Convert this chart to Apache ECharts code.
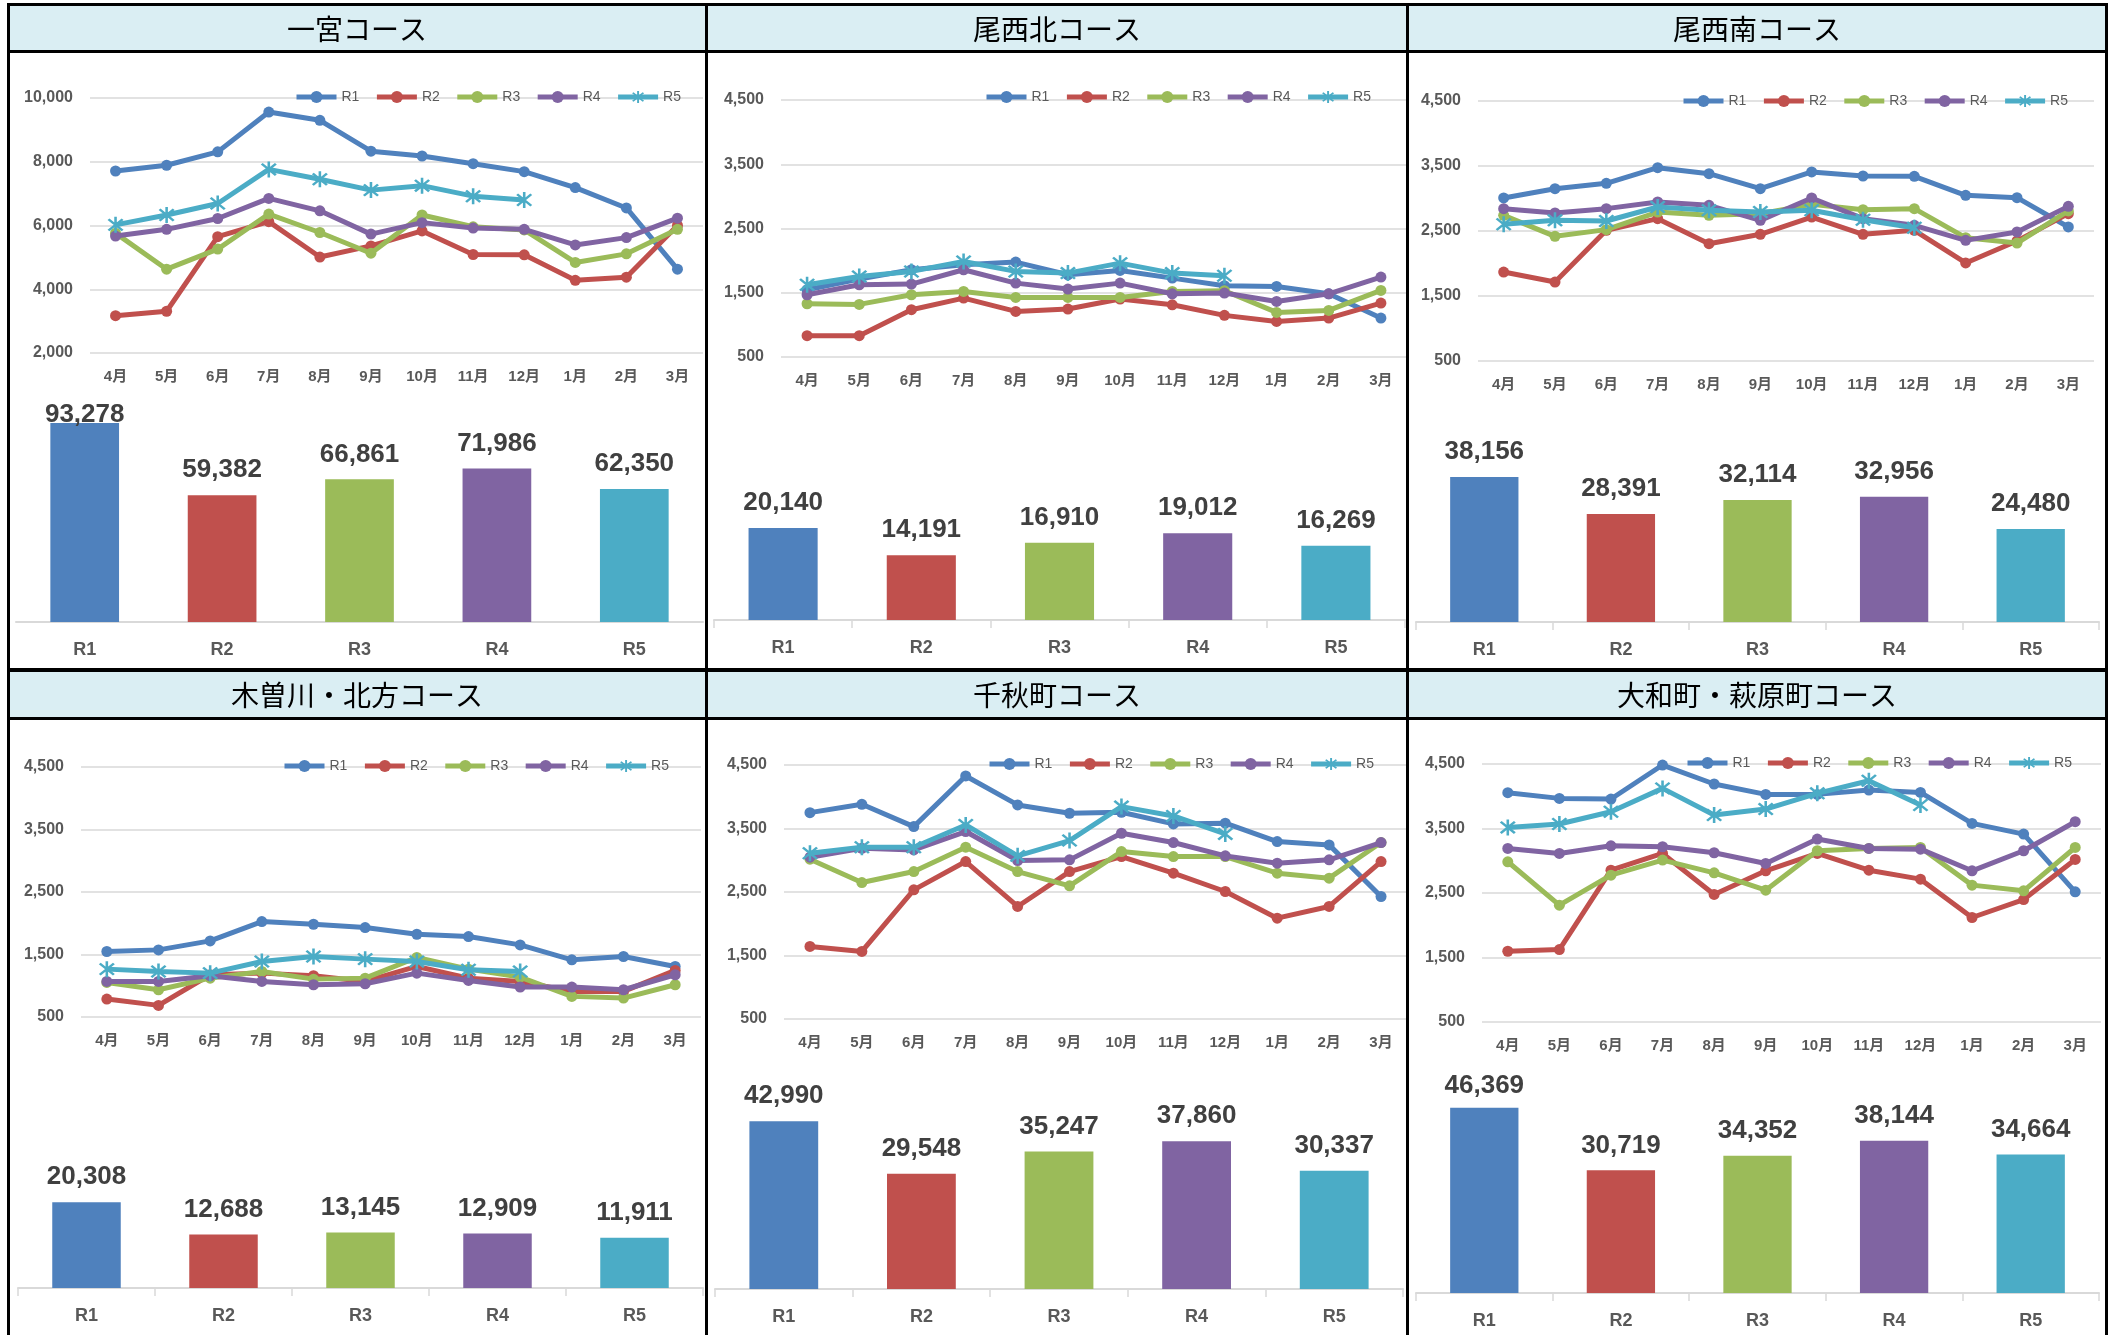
<!DOCTYPE html>
<html><head><meta charset="utf-8">
<script src="https://cdn.jsdelivr.net/npm/echarts@6/dist/echarts.min.js"></script>
<style>html,body{margin:0;padding:0;background:#fff}#c{width:2117px;height:1335px}</style>
</head><body><div id="c"></div>
<script>
// ---------- data ----------
const months = ['4月','5月','6月','7月','8月','9月','10月','11月','12月','1月','2月','3月'];
const years = ['R1','R2','R3','R4','R5'];
const courseNames = ['一宮コース','尾西北コース','尾西南コース','木曽川・北方コース','千秋町コース','大和町・萩原町コース'];

const ticksIchinomiya = [2000, 4000, 6000, 8000, 10000];
const ticksOther = [500, 1500, 2500, 3500, 4500];

// 一宮コース
const ichinomiyaR1 = [7710, 7890, 8310, 9560, 9300, 8330, 8180, 7940, 7690, 7190, 6550, 4630];
const ichinomiyaR2 = [3170, 3310, 5650, 6120, 5010, 5360, 5830, 5090, 5080, 4280, 4380, 6000];
const ichinomiyaR3 = [5760, 4630, 5260, 6360, 5780, 5130, 6330, 5960, 5860, 4840, 5110, 5880];
const ichinomiyaR4 = [5670, 5880, 6220, 6850, 6460, 5730, 6090, 5920, 5880, 5390, 5620, 6230];
const ichinomiyaR5 = [6020, 6330, 6690, 7760, 7450, 7110, 7250, 6920, 6800];
const ichinomiyaTotals = [93278, 59382, 66861, 71986, 62350];

// 尾西北コース
const bisaiKitaR1 = [1547, 1712, 1858, 1935, 1977, 1780, 1847, 1728, 1609, 1598, 1484, 1106];
const bisaiKitaR2 = [832, 832, 1236, 1417, 1210, 1246, 1402, 1313, 1148, 1054, 1106, 1339];
const bisaiKitaR3 = [1329, 1319, 1469, 1521, 1427, 1427, 1427, 1521, 1531, 1194, 1225, 1536];
const bisaiKitaR4 = [1469, 1624, 1635, 1858, 1650, 1557, 1650, 1484, 1495, 1365, 1484, 1744];
const bisaiKitaR5 = [1624, 1754, 1832, 1987, 1832, 1806, 1961, 1806, 1764];
const bisaiKitaTotals = [20140, 14191, 16910, 19012, 16269];

// 尾西南コース
const bisaiMinamiR1 = [3008, 3151, 3233, 3474, 3382, 3151, 3408, 3346, 3341, 3049, 3013, 2562];
const bisaiMinamiR2 = [1869, 1715, 2510, 2690, 2305, 2449, 2715, 2449, 2510, 2008, 2346, 2767];
const bisaiMinamiR3 = [2741, 2418, 2521, 2792, 2741, 2767, 2910, 2828, 2844, 2397, 2315, 2808];
const bisaiMinamiR4 = [2844, 2777, 2844, 2946, 2895, 2664, 3008, 2690, 2587, 2356, 2485, 2879];
const bisaiMinamiR5 = [2603, 2664, 2654, 2869, 2818, 2792, 2818, 2674, 2551];
const bisaiMinamiTotals = [38156, 28391, 32114, 32956, 24480];

// 木曽川・北方コース
const kisogawaR1 = [1548, 1574, 1718, 2027, 1984, 1931, 1824, 1787, 1654, 1415, 1468, 1309];
const kisogawaR2 = [787, 686, 1176, 1202, 1160, 1069, 1309, 1122, 1069, 910, 910, 1245];
const kisogawaR3 = [1053, 936, 1122, 1229, 1106, 1122, 1452, 1266, 1138, 830, 803, 1016];
const kisogawaR4 = [1069, 1069, 1160, 1069, 1016, 1032, 1202, 1085, 979, 979, 936, 1176];
const kisogawaR5 = [1266, 1229, 1202, 1388, 1468, 1426, 1388, 1255, 1229];
const kisogawaTotals = [20308, 12688, 13145, 12909, 11911];

// 千秋町コース
const chiakiR1 = [3750, 3881, 3530, 4327, 3871, 3740, 3756, 3572, 3583, 3294, 3242, 2429];
const chiakiR2 = [1643, 1564, 2534, 2980, 2272, 2822, 3058, 2796, 2508, 2088, 2272, 2980];
const chiakiR3 = [3016, 2649, 2822, 3205, 2822, 2597, 3137, 3058, 3058, 2796, 2718, 3279];
const chiakiR4 = [3048, 3189, 3163, 3452, 2996, 3006, 3425, 3279, 3069, 2953, 3006, 3279];
const chiakiR5 = [3111, 3205, 3205, 3556, 3069, 3310, 3845, 3698, 3415];
const chiakiTotals = [42990, 29548, 35247, 37860, 30337];

// 大和町・萩原町コース
const yamatoR1 = [4055, 3967, 3957, 4484, 4190, 4029, 4029, 4096, 4060, 3579, 3413, 2518];
const yamatoR2 = [1597, 1623, 2854, 3113, 2477, 2844, 3113, 2854, 2715, 2120, 2399, 3020];
const yamatoR3 = [2984, 2311, 2777, 3010, 2813, 2544, 3155, 3191, 3206, 2622, 2534, 3206];
const yamatoR4 = [3191, 3113, 3232, 3217, 3124, 2958, 3336, 3191, 3180, 2844, 3155, 3605];
const yamatoR5 = [3517, 3569, 3760, 4122, 3708, 3801, 4045, 4241, 3864];
const yamatoTotals = [46369, 30719, 34352, 38144, 34664];

// ---------- assembly ----------
const lineData = [
  [ichinomiyaR1, ichinomiyaR2, ichinomiyaR3, ichinomiyaR4, ichinomiyaR5],
  [bisaiKitaR1, bisaiKitaR2, bisaiKitaR3, bisaiKitaR4, bisaiKitaR5],
  [bisaiMinamiR1, bisaiMinamiR2, bisaiMinamiR3, bisaiMinamiR4, bisaiMinamiR5],
  [kisogawaR1, kisogawaR2, kisogawaR3, kisogawaR4, kisogawaR5],
  [chiakiR1, chiakiR2, chiakiR3, chiakiR4, chiakiR5],
  [yamatoR1, yamatoR2, yamatoR3, yamatoR4, yamatoR5]
];
const totals = [ichinomiyaTotals, bisaiKitaTotals, bisaiMinamiTotals, kisogawaTotals, chiakiTotals, yamatoTotals];
const ticks = [ticksIchinomiya, ticksOther, ticksOther, ticksOther, ticksOther, ticksOther];

// layout (pixels) and styles
const palette = ['#4F81BD', '#C0504D', '#9BBB59', '#8064A2', '#4BACC6'];
const lineGrids = [
  {left: 90, top: 98, width: 613, height: 255},
  {left: 781, top: 100, width: 626, height: 257},
  {left: 1478, top: 101, width: 616, height: 260},
  {left: 81, top: 767, width: 620, height: 250},
  {left: 784, top: 765, width: 623, height: 254},
  {left: 1482, top: 764, width: 619, height: 258}
];
const barGrids = [
  {left: 16, top: 402, width: 687, height: 220},
  {left: 714, top: 400, width: 691, height: 220},
  {left: 1416, top: 402, width: 683, height: 220},
  {left: 18, top: 1068, width: 685, height: 220},
  {left: 715, top: 1069, width: 688, height: 220},
  {left: 1416, top: 1073, width: 683, height: 220}
];
const barScaleMax = [103100, 48200, 57900, 52100, 56400, 55100];
const legendPos = [
  {left: 294, top: 90}, {left: 984, top: 90}, {left: 1681, top: 94},
  {left: 282, top: 759}, {left: 987, top: 757}, {left: 1685, top: 756}
];
const titleCenters = [[357, 29], [1057, 29], [1757, 29], [357, 695], [1057, 695], [1757, 695]];

const LATIN = '"Liberation Sans", "Noto Sans CJK JP", sans-serif';
const asterisk = 'path://M8.7 0L11.3 0L11.3 20L8.7 20Z M1.9 3.8L3.8 1.9L18.1 16.2L16.2 18.1Z M16.2 1.9L18.1 3.8L3.8 18.1L1.9 16.2Z';
const fmt = v => Number(v).toLocaleString('en-US');

const grid = [], xAxis = [], yAxis = [], series = [], legend = [];
for (let i = 0; i < 6; i++) {
  grid.push(Object.assign({containLabel: false}, lineGrids[i]));
}
for (let i = 0; i < 6; i++) {
  grid.push(Object.assign({containLabel: false}, barGrids[i]));
}
for (let i = 0; i < 6; i++) {
  const t = ticks[i];
  xAxis.push({
    type: 'category', gridIndex: i, data: months, boundaryGap: true,
    axisLine: {show: false}, axisTick: {show: false},
    axisLabel: {fontSize: 15, fontWeight: 'bold', color: '#595959', margin: 16, fontFamily: LATIN, interval: 0}
  });
  yAxis.push({
    type: 'value', gridIndex: i, min: t[0], max: t[t.length - 1], interval: t[1] - t[0],
    axisLine: {show: false}, axisTick: {show: false},
    splitLine: {show: true, lineStyle: {color: '#D9D9D9', width: 1.5}},
    axisLabel: {fontSize: 16, fontWeight: 'bold', color: '#595959', margin: 17, fontFamily: LATIN, formatter: fmt}
  });
  for (let j = 0; j < 5; j++) {
    series.push({
      type: 'line', name: years[j], xAxisIndex: i, yAxisIndex: i,
      data: lineData[i][j],
      symbol: j === 4 ? asterisk : 'circle',
      symbolSize: j === 4 ? 16 : 11,
      showSymbol: true, showAllSymbol: true,
      lineStyle: {width: 5, color: palette[j]},
      itemStyle: {color: palette[j]},
      z: 2 + j
    });
  }
  legend.push({
    data: years, left: legendPos[i].left, top: legendPos[i].top, padding: 0,
    itemWidth: 40, itemHeight: 15, itemGap: 15, selectedMode: false,
    lineStyle: {width: 5},
    textStyle: {fontSize: 14, color: '#595959', fontFamily: LATIN}
  });
}
for (let i = 0; i < 6; i++) {
  const gi = 6 + i;
  const H = barGrids[i].height;
  xAxis.push({
    type: 'category', gridIndex: gi, data: years,
    axisLine: {show: true, lineStyle: {color: '#D9D9D9', width: 2}},
    axisTick: {show: i !== 0, length: 8, lineStyle: {color: '#D9D9D9', width: 1.5}},
    axisLabel: {fontSize: 18, fontWeight: 'bold', color: '#595959', margin: 19, fontFamily: LATIN}
  });
  yAxis.push({type: 'value', gridIndex: gi, min: 0, max: barScaleMax[i], show: false, splitLine: {show: false}});
  const labelBox = 26, baseDist = 12;
  series.push({
    type: 'bar', name: 'total' + i, xAxisIndex: gi, yAxisIndex: gi,
    barWidth: '50%',
    data: totals[i].map(v => {
      const free = H - H * v / barScaleMax[i];
      const d = Math.min(baseDist, free - labelBox);
      return {value: v, label: {distance: d}};
    }),
    itemStyle: {color: p => palette[p.dataIndex]},
    label: {show: true, position: 'top', formatter: p => fmt(p.value), fontSize: 26, fontWeight: 'bold', color: '#404040', fontFamily: LATIN}
  });
}

// frame: title bars, borders, titles
const graphic = [];
graphic.push({type: 'rect', shape: {x: 8, y: 4, width: 2100, height: 48}, style: {fill: '#DAEEF3'}, z: 100});
graphic.push({type: 'rect', shape: {x: 8, y: 671, width: 2100, height: 48}, style: {fill: '#DAEEF3'}, z: 100});
const blackRects = [
  [7, 3, 2101, 3], [7, 50, 2101, 3], [7, 668, 2101, 4], [7, 717, 2101, 3],
  [7, 3, 3, 1340], [705, 3, 3, 1340], [1406, 3, 3, 1340], [2105, 3, 3, 1340]
];
blackRects.forEach(r => graphic.push({type: 'rect', shape: {x: r[0], y: r[1], width: r[2], height: r[3]}, style: {fill: '#000'}, z: 102}));
courseNames.forEach((name, i) => graphic.push({
  type: 'text', x: titleCenters[i][0], y: titleCenters[i][1], z: 103,
  style: {text: name, fill: '#000', fontSize: 28, fontFamily: '"Noto Sans CJK JP", sans-serif', fontWeight: 'normal', align: 'center', verticalAlign: 'middle'}
}));

const chart = echarts.init(document.getElementById('c'), null, {renderer: 'canvas', width: 2117, height: 1335});
chart.setOption({
  animation: false,
  backgroundColor: '#ffffff',
  grid, xAxis, yAxis, series, legend, graphic
});
</script></body></html>
